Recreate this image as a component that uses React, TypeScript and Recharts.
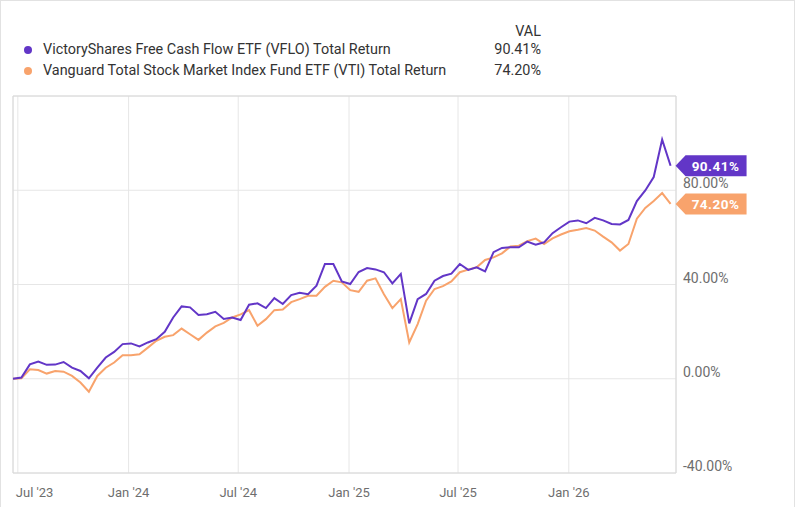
import React from 'react';
import {
  LineChart, Line, XAxis, YAxis, CartesianGrid, ReferenceDot, ReferenceArea,
} from 'recharts';

const PURPLE = '#6236C7';
const ORANGE = '#F8A36C';
const GRID = '#e6e6e6';
const BORDER = '#d8d8d8';

// biweekly closes, starting Jun 23 2023
const START = Date.UTC(2023, 5, 23);
const DAY = 86400000;
const STEP_DAYS = 14;
const END = START + 1101 * DAY;

const vfloReturn = [
  0, 0.5, 6.1, 7.3, 5.9, 6.0, 7.1, 4.7, 3.3, 0.2,
  4.7, 9.0, 11.4, 14.7, 15.0, 13.7, 15.4, 16.8, 19.9, 26.0,
  30.7, 30.3, 27.1, 27.4, 28.4, 25.4, 26.0, 24.9, 31.4, 32.0,
  30.0, 34.2, 31.7, 35.5, 36.5, 35.9, 39.5, 48.7, 48.7, 41.3,
  40.2, 45.3, 47.0, 46.4, 45.2, 40.5, 44.5, 23.5, 33.8, 36.0,
  41.6, 43.6, 44.6, 48.7, 46.2, 47.3, 45.6, 53.7, 55.5, 55.8,
  55.8, 58.2, 56.9, 57.9, 61.8, 64.3, 66.7, 67.2, 66.0, 68.3,
  67.2, 65.7, 65.5, 67.4, 75.4, 79.9, 85.6, 101.5, 90.41,
];

const vtiReturn = [
  0, 0.2, 4.0, 3.7, 2.2, 3.3, 3.0, 1.2, -1.6, -5.5,
  1.2, 4.7, 6.9, 10.0, 10.0, 10.4, 13.2, 16.1, 17.8, 18.5,
  21.3, 18.9, 16.5, 19.6, 22.2, 23.7, 26.0, 27.3, 29.1, 22.5,
  25.3, 29.1, 29.4, 32.5, 33.8, 35.2, 35.2, 39.0, 41.6, 40.9,
  37.6, 36.9, 41.6, 42.6, 35.9, 30.0, 33.8, 15.4, 23.2, 33.1,
  38.1, 39.3, 41.3, 45.2, 46.3, 47.3, 50.4, 51.5, 53.2, 56.1,
  56.5, 58.4, 59.5, 57.2, 59.6, 61.2, 62.6, 63.2, 64.0, 62.9,
  60.3, 57.9, 54.4, 57.2, 67.9, 72.5, 75.4, 78.8, 74.20,
];

const xTickDates = [
  Date.UTC(2023, 6, 1), Date.UTC(2024, 0, 1), Date.UTC(2024, 6, 1),
  Date.UTC(2025, 0, 1), Date.UTC(2025, 6, 1), Date.UTC(2026, 0, 1),
];
const xTickLabels = ["Jul '23", "Jan '24", "Jul '24", "Jan '25", "Jul '25", "Jan '26"];
const yTicks = [-40, 0, 40, 80, 120];

const seriesNames = [
  'VictoryShares Free Cash Flow ETF (VFLO) Total Return',
  'Vanguard Total Stock Market Index Fund ETF (VTI) Total Return',
];

const data = vfloReturn.map((v, i) => ({
  t: START + i * STEP_DAYS * DAY,
  vflo: v,
  vti: vtiReturn[i],
}));
const last = data[data.length - 1];

function XTick(props: any) {
  const { x, y, payload, index } = props;
  const i = xTickDates.indexOf(payload.value);
  const first = index === 0;
  return (
    <text x={first ? x - 2 : x} y={y + 24} textAnchor={first ? 'start' : 'middle'}
      fontSize={13} fill="#6e6e6e">
      {xTickLabels[i]}
    </text>
  );
}

function YTick(props: any) {
  const { x, y, payload } = props;
  if (payload.value === 120) return <g />;
  return (
    <text x={x} y={y - 2} textAnchor="start" fontSize={14} fill="#6e6e6e">
      {payload.value.toFixed(2)}%
    </text>
  );
}

function tag(color: string, label: string) {
  return (props: any) => {
    const { cx, cy } = props;
    const tip = cx + 5;
    return (
      <g>
        <path
          d={`M${tip},${cy} L${tip + 10},${cy - 10.5} L${tip + 71},${cy - 10.5} L${tip + 71},${cy + 10.5} L${tip + 10},${cy + 10.5} Z`}
          fill={color}
        />
        <text x={tip + 40} y={cy + 5} textAnchor="middle" fontSize={13.5} fontWeight={700}
          fill="#fff" letterSpacing={0.5}>
          {label}
        </text>
      </g>
    );
  };
}

export default function App() {
  return (
    <div style={{
      position: 'absolute', left: 0, top: 0, width: 795, height: 507, background: '#fff',
      fontFamily: 'Roboto, sans-serif', boxSizing: 'border-box',
      borderTop: '1px solid #e2e2e2', borderLeft: '1px solid #e2e2e2', borderRight: '1px solid #e2e2e2',
    }}>
      <div style={{ position: 'absolute', left: 0, top: 22, width: 540, textAlign: 'right', fontSize: 14.4, color: '#333' }}>
        VAL
      </div>
      {seriesNames.map((name, i) => (
        <div key={name} style={{ position: 'absolute', left: 22, top: 40 + i * 21, width: 518, height: 18, fontSize: 14.4, color: '#333' }}>
          <span style={{
            position: 'absolute', left: 1, top: 5, width: 8, height: 8, borderRadius: 4,
            background: i === 0 ? PURPLE : ORANGE,
          }} />
          <span style={{ position: 'absolute', left: 20, top: 0, whiteSpace: 'nowrap' }}>{name}</span>
          <span style={{ position: 'absolute', right: 0, top: 0 }}>
            {(i === 0 ? last.vflo : last.vti).toFixed(2)}%
          </span>
        </div>
      ))}
      <div style={{ position: 'absolute', left: -1, top: -1 }}>
        <LineChart width={795} height={507} data={data}
          margin={{ top: 96, right: 0, bottom: 0, left: 13 }}>
          <CartesianGrid stroke={GRID} />
          <ReferenceArea x1={START} x2={END} y1={-40} y2={120} fill="none" stroke={BORDER} />
          <XAxis dataKey="t" type="number" domain={[START, END]} ticks={xTickDates}
            height={34} axisLine={false} tickLine={false} tickSize={0} tickMargin={0}
            tick={<XTick />} interval={0} />
          <YAxis orientation="right" type="number" domain={[-40, 120]} ticks={yTicks}
            width={119} axisLine={false} tickLine={false} tickSize={0} tickMargin={7}
            tick={<YTick />} interval={0} />
          <Line type="linear" dataKey="vti" stroke={ORANGE} strokeWidth={2} dot={false}
            isAnimationActive={false} />
          <Line type="linear" dataKey="vflo" stroke={PURPLE} strokeWidth={2} dot={false}
            isAnimationActive={false} />
          <ReferenceDot x={last.t} y={last.vflo} r={0} shape={tag(PURPLE, `${last.vflo.toFixed(2)}%`)} />
          <ReferenceDot x={last.t} y={last.vti} r={0} shape={tag(ORANGE, `${last.vti.toFixed(2)}%`)} />
        </LineChart>
      </div>
    </div>
  );
}
